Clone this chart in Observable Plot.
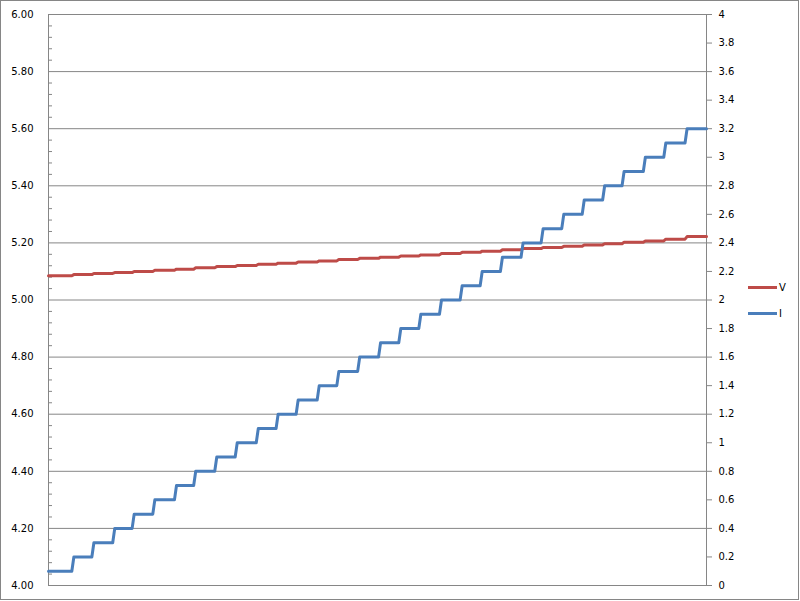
<!DOCTYPE html>
<html><head><meta charset="utf-8">
<script src="https://cdn.jsdelivr.net/npm/d3@7"></script>
<script src="https://cdn.jsdelivr.net/npm/@observablehq/plot@0.6"></script>
<style>
body{margin:0;background:#fff;}
#wrap{position:relative;width:800px;height:601px;}
#chart svg{display:block;}
#border{position:absolute;left:0;top:0;width:797px;height:598px;border:1px solid #868686;pointer-events:none;}
.lg{position:absolute;left:748px;height:16px;display:flex;align-items:center;font:10px "DejaVu Sans";color:#000;white-space:nowrap;}
.lg .sw{display:inline-block;width:29px;height:3px;margin-right:2px;}
</style></head><body>
<div id="wrap"><div id="chart"></div><div id="border"></div><div id="legend"></div></div>
<script>
// Series
const seriesNames = ["V", "I"];
const seriesColors = ["#BE4B48", "#4A7EBB"];
// Time (s) at which the current steps up to the next level
const stepTimes = [11.9, 21.7, 31.9, 41.4, 51.5, 62.1, 71.5, 81.8, 91.8, 102.1, 111.8, 121.6, 131.9, 141.5, 151.7, 161.9, 171.8, 181.6, 191.7, 201.8, 211.6, 221.5, 231.6, 241.4, 251.5, 261.5, 271.5, 281.0, 291.4, 301.4, 311.8];
const endTime = 321.8;
// Current levels (A), right axis
const currentLevels = [0.1, 0.2, 0.3, 0.4, 0.5, 0.6, 0.7, 0.8, 0.9, 1.0, 1.1, 1.2, 1.3, 1.4, 1.5, 1.6, 1.7, 1.8, 1.9, 2.0, 2.1, 2.2, 2.3, 2.4, 2.5, 2.6, 2.7, 2.8, 2.9, 3.0, 3.1, 3.2];
// Voltage during each current level (V), left axis
const voltageLevels = [5.085, 5.089, 5.093, 5.096, 5.100, 5.104, 5.108, 5.113, 5.117, 5.121, 5.125, 5.129, 5.133, 5.137, 5.142, 5.146, 5.150, 5.154, 5.158, 5.163, 5.167, 5.171, 5.176, 5.180, 5.184, 5.188, 5.193, 5.197, 5.202, 5.207, 5.213, 5.222];
// Axis ticks
const leftTicks = [4.0, 4.2, 4.4, 4.6, 4.8, 5.0, 5.2, 5.4, 5.6, 5.8, 6.0];
const leftTickLabels = ["4.00", "4.20", "4.40", "4.60", "4.80", "5.00", "5.20", "5.40", "5.60", "5.80", "6.00"];
const rightTicks = [0, 0.2, 0.4, 0.6, 0.8, 1, 1.2, 1.4, 1.6, 1.8, 2, 2.2, 2.4, 2.6, 2.8, 3, 3.2, 3.4, 3.6, 3.8, 4];
const rightTickLabels = ["0", "0.2", "0.4", "0.6", "0.8", "1", "1.2", "1.4", "1.6", "1.8", "2", "2.2", "2.4", "2.6", "2.8", "3", "3.2", "3.4", "3.6", "3.8", "4"];

const toLeft = (i) => 4 + i * 0.5; // right axis 0..4 -> left axis 4..6
const leftMinorTicks = d3.range(0, 50).map(k => 4 + k * 0.04).filter((v, k) => k % 5 !== 0);

const vRows = [], iRows = [];
for (let k = 0; k < currentLevels.length; k++) {
  const t0 = k === 0 ? 0 : stepTimes[k - 1] + 0.5;
  const t1 = k === currentLevels.length - 1 ? endTime : stepTimes[k] - 0.5;
  vRows.push({t: t0, v: voltageLevels[k]}, {t: t1, v: voltageLevels[k]});
  iRows.push({t: t0, a: currentLevels[k]}, {t: t1, a: currentLevels[k]});
}

const grid = "#868686";
const chart = Plot.plot({
  width: 800, height: 601,
  marginLeft: 48, marginRight: 94, marginTop: 14, marginBottom: 16,
  x: {domain: [0, endTime], axis: null},
  y: {domain: [4, 6], axis: null},
  style: {fontFamily: "DejaVu Sans", fontSize: "10px", color: "#000", background: "transparent"},
  marks: [
    Plot.ruleY(leftTicks, {stroke: grid}),
    Plot.frame({stroke: grid}),
    Plot.ruleY(leftMinorTicks, {stroke: grid, insetRight: 654}),
    Plot.axisY(leftTicks, {anchor: "left", tickSize: 0, tickPadding: 15, label: null,
      tickFormat: d => leftTickLabels[leftTicks.findIndex(v => Math.abs(v - d) < 1e-9)]}),
    Plot.axisY(rightTicks.map(toLeft), {anchor: "right", tickSize: 5, tickPadding: 7, label: null, stroke: grid,
      tickFormat: d => rightTickLabels[rightTicks.findIndex(v => Math.abs(toLeft(v) - d) < 1e-9)]}),
    Plot.line(vRows, {x: "t", y: "v", stroke: seriesColors[0], strokeWidth: 3, strokeLinejoin: "round"}),
    Plot.line(iRows, {x: "t", y: d => toLeft(d.a), stroke: seriesColors[1], strokeWidth: 3, strokeLinejoin: "round"})
  ]
});
document.getElementById("chart").appendChild(chart);

const legend = document.getElementById("legend");
const legendTops = [279, 305];
seriesNames.forEach((name, i) => {
  const row = document.createElement("div");
  row.className = "lg";
  row.style.top = legendTops[i] + "px";
  const sw = document.createElement("span");
  sw.className = "sw";
  sw.style.background = seriesColors[i];
  const tx = document.createElement("span");
  tx.textContent = name;
  row.appendChild(sw); row.appendChild(tx);
  legend.appendChild(row);
});
</script>
</body></html>
